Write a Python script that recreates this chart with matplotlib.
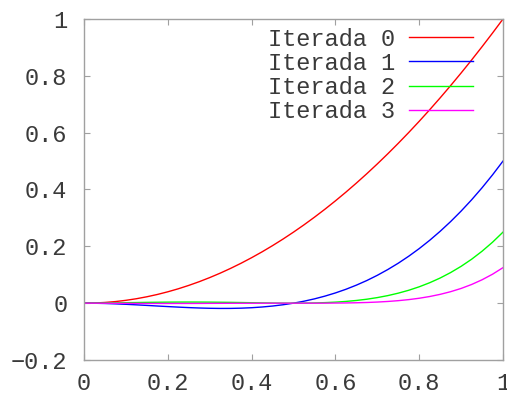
import matplotlib
matplotlib.use("Agg")
import matplotlib.pyplot as plt

x = [0.000, 0.025, 0.050, 0.075, 0.100, 0.125, 0.150, 0.175, 0.200, 0.225,
     0.250, 0.275, 0.300, 0.325, 0.350, 0.375, 0.400, 0.425, 0.450, 0.475,
     0.500, 0.525, 0.550, 0.575, 0.600, 0.625, 0.650, 0.675, 0.700, 0.725,
     0.750, 0.775, 0.800, 0.825, 0.850, 0.875, 0.900, 0.925, 0.950, 0.975, 1.000]

iterada0 = [0.0, 0.0006, 0.0025, 0.0056, 0.01, 0.0156, 0.0225, 0.0306, 0.04, 0.0506,
            0.0625, 0.0756, 0.09, 0.1056, 0.1225, 0.1406, 0.16, 0.1806, 0.2025, 0.2256,
            0.25, 0.2756, 0.3025, 0.3306, 0.36, 0.3906, 0.4225, 0.4556, 0.49, 0.5256,
            0.5625, 0.6006, 0.64, 0.6806, 0.7225, 0.7656, 0.81, 0.8556, 0.9025, 0.9506, 1.0]
iterada1 = [0.0, -0.0003, -0.0011, -0.0024, -0.004, -0.0059, -0.0079, -0.01, -0.012, -0.0139,
            -0.0156, -0.017, -0.018, -0.0185, -0.0184, -0.0176, -0.016, -0.0135, -0.0101, -0.0056,
            0.0, 0.0069, 0.0151, 0.0248, 0.036, 0.0488, 0.0634, 0.0797, 0.098, 0.1183,
            0.1406, 0.1652, 0.192, 0.2212, 0.2529, 0.2871, 0.324, 0.3636, 0.4061, 0.4515, 0.5]
iterada2 = [0.0, 0.0001, 0.0005, 0.001, 0.0016, 0.0022, 0.0028, 0.0032, 0.0036, 0.0038,
            0.0039, 0.0038, 0.0036, 0.0032, 0.0028, 0.0022, 0.0016, 0.001, 0.0005, 0.0001,
            0.0, 0.0002, 0.0008, 0.0019, 0.0036, 0.0061, 0.0095, 0.0139, 0.0196, 0.0266,
            0.0352, 0.0454, 0.0576, 0.0719, 0.0885, 0.1077, 0.1296, 0.1545, 0.1828, 0.2145, 0.25]
iterada3 = [0.0, 0.0, -0.0002, -0.0004, -0.0006, -0.0008, -0.001, -0.001, -0.0011, -0.001,
            -0.001, -0.0009, -0.0007, -0.0006, -0.0004, -0.0003, -0.0002, -0.0001, 0.0, 0.0,
            0.0, 0.0, 0.0, 0.0001, 0.0004, 0.0008, 0.0014, 0.0024, 0.0039, 0.006,
            0.0088, 0.0125, 0.0173, 0.0234, 0.031, 0.0404, 0.0518, 0.0657, 0.0823, 0.1019, 0.125]

labels = ["Iterada 0", "Iterada 1", "Iterada 2", "Iterada 3"]
colors = ["#ff0000", "#0000ff", "#00ff00", "#ff00ff"]
xticks = [0, 0.2, 0.4, 0.6, 0.8, 1]
xticklabels = ["0", "0.2", "0.4", "0.6", "0.8", "1"]
yticks = [-0.2, 0, 0.2, 0.4, 0.6, 0.8, 1]
yticklabels = ["\u22120.2", "0", "0.2", "0.4", "0.6", "0.8", "1"]

plt.rcParams["font.family"] = ["Liberation Mono", "DejaVu Sans Mono"]
text_color = "#3a3a3a"

fig = plt.figure(figsize=(5.07, 3.96), dpi=100)
ax = fig.add_axes([84 / 507, 1 - 360 / 396, (503 - 84) / 507, (360 - 19) / 396])

for ys, lab, c in zip([iterada0, iterada1, iterada2, iterada3], labels, colors):
    ax.plot(x, ys, color=c, lw=1.0, label=lab)

ax.set_xlim(0, 1)
ax.set_ylim(-0.2, 1)
ax.set_xticks(xticks)
ax.set_yticks(yticks)
ax.set_xticklabels(xticklabels)
ax.set_yticklabels(yticklabels)

for s in ax.spines.values():
    s.set_color("#a0a0a0")
    s.set_linewidth(1.0)
ax.tick_params(direction="in", length=4, color="#a0a0a0", labelsize=17,
               labelcolor=text_color, top=True, right=True)
ax.tick_params(axis="y", pad=12)
ax.tick_params(axis="x", pad=9)

leg = ax.legend(loc="upper right", bbox_to_anchor=(0.928, 0.975), frameon=False,
                fontsize=17, markerfirst=False, handlelength=2.7, handletextpad=0.6,
                labelspacing=0.05, borderpad=0.0, borderaxespad=0.0)
for t in leg.get_texts():
    t.set_ha("right")
    t.set_color(text_color)

fig.savefig("out.png", dpi=100)
